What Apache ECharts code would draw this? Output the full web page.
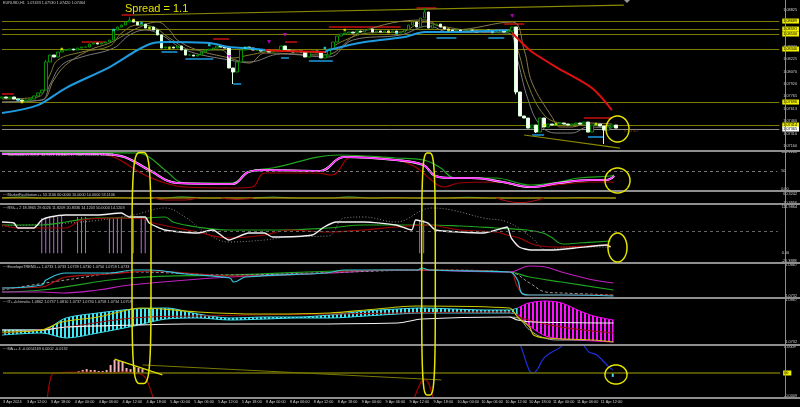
<!DOCTYPE html>
<html><head><meta charset="utf-8">
<script src="https://cdn.jsdelivr.net/npm/echarts@6/dist/echarts.min.js"></script>
<style>html,body{margin:0;padding:0;background:#000;}#c{width:800px;height:407px;}</style>
</head><body><div id="c"></div>
<script>
// ---------- DATA ----------
const N_SLOTS = 196;
const tickLabels = ['3 Apr 2024','3 Apr 12:00','3 Apr 18:00','4 Apr 00:00','4 Apr 06:00','4 Apr 12:00','4 Apr 18:00','5 Apr 00:00','5 Apr 06:00','5 Apr 12:00','5 Apr 18:00','8 Apr 00:00','8 Apr 06:00','8 Apr 12:00','8 Apr 18:00','9 Apr 00:00','9 Apr 06:00','9 Apr 12:00','9 Apr 18:00','10 Apr 00:00','10 Apr 06:00','10 Apr 12:00','10 Apr 18:00','11 Apr 00:00','11 Apr 06:00','11 Apr 12:00'];
const firstOpen = 1.07745;
const closes = [1.07758,1.07745,1.07758,1.07733,1.07721,1.07708,1.07721,1.07733,1.07770,1.07807,
1.07843,1.08187,1.08272,1.08248,1.08309,1.08334,1.08334,1.08346,1.08334,1.08358,
1.08370,1.08370,1.08407,1.08420,1.08407,1.08420,1.08432,1.08456,1.08579,1.08616,
1.08640,1.08677,1.08702,1.08677,1.08640,1.08652,1.08603,1.08616,1.08579,1.08518,
1.08358,1.08370,1.08370,1.08358,1.08383,1.08334,1.08272,1.08272,1.08260,1.08272,
1.08309,1.08334,1.08346,1.08358,1.08383,1.08370,1.08358,1.08113,1.08064,1.08187,
1.08334,1.08370,1.08358,1.08334,1.08334,1.08321,1.08334,1.08309,1.08321,1.08334,
1.08383,1.08334,1.08321,1.08309,1.08321,1.08309,1.08248,1.08309,1.08321,1.08309,
1.08236,1.08272,1.08346,1.08432,1.08505,1.08530,1.08542,1.08554,1.08542,1.08567,
1.08554,1.08579,1.08591,1.08554,1.08567,1.08554,1.08567,1.08554,1.08567,1.08542,
1.08554,1.08579,1.08640,1.08677,1.08616,1.08726,1.08800,1.08603,1.08640,1.08652,
1.08616,1.08591,1.08579,1.08567,1.08579,1.08567,1.08567,1.08579,1.08567,1.08554,
1.08567,1.08579,1.08567,1.08554,1.08554,1.08567,1.08554,1.08567,1.08616,1.07819,
1.07525,1.07500,1.07377,1.07414,1.07328,1.07500,1.07390,1.07426,1.07414,1.07426,
1.07439,1.07426,1.07414,1.07426,1.07439,1.07426,1.07451,1.07328,1.07414,1.07426,
1.07402,1.07353,1.07390,1.07414,1.07377];
const wickExtremes = [[11,null,1.08211],[32,null,1.08740],[58,1.07917,null],[106,null,1.08849],[129,1.07790,null],[134,1.07316,null],[151,1.07181,null]];
const priceTicks = [1.08825,1.08673,1.08522,1.08370,1.08225,1.08070,1.07920,1.07765,1.07613,1.07460,1.07310,1.07160];
const hLevels = [1.08689,1.08591,1.08530,1.08346,1.07696,1.07414];
const bidPrice = 1.07365;

const maBlue1 = [[0,1.07561],[9,1.07659],[16,1.07868],[27,1.08125],[34,1.08334],[38,1.08420],[42,1.08432],[52,1.08420],[57,1.08370],[61,1.08358],[66,1.08334]];
const maRed1 = [[66,1.08334],[71,1.08321],[81,1.08309]];
const maBlue2 = [[81,1.08309],[82,1.08334],[91,1.08432],[101,1.08493],[106,1.08554],[112,1.08554],[127,1.08579]];
const maRed2 = [[128,1.08542],[131,1.08395],[133,1.08309],[139,1.08125],[148,1.07868],[153,1.07598]];
const maSlow = [[0,1.07696],[10,1.07721],[13,1.07966],[16,1.08150],[22,1.08334],[27,1.08420],[34,1.08603],[39,1.08677],[42,1.08579],[44,1.08456],[49,1.08334],[57,1.08236],[62,1.08174],[66,1.08297],[81,1.08272],[90,1.08554],[106,1.08702],[110,1.08616],[113,1.08579],[128,1.08677],[131,1.08334],[133,1.07929],[138,1.07512],[140,1.07390],[143,1.07390],[147,1.07439],[153,1.07426]];
const maFastA = [[0,1.07733],[9,1.07758],[12,1.08027],[14,1.08211],[20,1.08309],[27,1.08383],[30,1.08542],[34,1.08640],[38,1.08616],[42,1.08481],[48,1.08334],[55,1.08334],[58,1.08236],[62,1.08272],[70,1.08334],[80,1.08297],[85,1.08432],[92,1.08542],[100,1.08554],[106,1.08677],[110,1.08628],[120,1.08567],[127,1.08579],[129,1.08395],[132,1.07905],[136,1.07537],[140,1.07439],[146,1.07414],[153,1.07402]];
const maFastB = [[0,1.07696],[10,1.07721],[12,1.07905],[15,1.08150],[20,1.08248],[28,1.08358],[32,1.08518],[36,1.08579],[40,1.08518],[46,1.08334],[57,1.08211],[62,1.08187],[70,1.08285],[82,1.08248],[88,1.08456],[100,1.08518],[107,1.08628],[112,1.08554],[127,1.08542],[129,1.08272],[132,1.07721],[135,1.07414],[139,1.07316],[143,1.07316],[147,1.07390],[153,1.07377]];
const resistSegs = [[0,3,1.07794],[20,26,1.08432],[30,33,1.08763],[53,57,1.08469],[71,74,1.08432],[82,100,1.08616],[104,109,1.08849],[126,131,1.08652],[146,153,1.07500]];
const supportSegs = [[40,44,1.08309],[46,53,1.08223],[58,60,1.07917],[70,72,1.08236],[77,83,1.08199],[109,114,1.08481],[122,126,1.08481],[133,136,1.07292],[147,151,1.07267]];
const trendTop = [[33,1.08763],[156,1.08885]];
const trendBottom = [[131,1.07292],[155,1.07132]];
const fractals = [[57,1.08248],[67,1.08432],[71,1.08518],[128,1.08750]];
const yellowDots = [[5,1.07696],[15,1.08346],[33,1.08702],[37,1.08603],[42,1.08358],[86,1.08579],[97,1.08554],[112,1.08579],[136,1.07414],[139,1.07426],[149,1.07426]];
const cyanDots = [[4,1.07721],[28,1.08579],[35,1.08665],[52,1.08395],[61,1.08358],[81,1.08358],[99,1.08542],[123,1.08554]];

const stochK = [[0,95.7],[24,95.7],[30,90],[37,52.7],[44,17.8],[58,15.1],[62,47.3],[66,52.7],[80,50],[86,87.7],[99,79.6],[106,66.2],[109,36.6],[113,31.2],[118,31.2],[126,20.5],[133,7],[140,17.8],[148,25.8],[152,25.8],[154,36.6]];
const stochGreen = [[0,101],[34,98.4],[37,87.7],[41,52.7],[46,17.8],[58,17.8],[62,47.3],[68,58.1],[85,93],[99,85],[106,79.6],[110,60.8],[114,31.2],[124,31.2],[133,12.4],[140,20.5],[145,31.2],[153,36.6],[154,39.3]];
const stochRed = [[0,95.7],[24,95.7],[37,33.9],[41,17.8],[46,7],[58,4.3],[63,7],[66,44.7],[79,44.7],[83,39.3],[88,87.7],[99,79.6],[104,60.8],[108,25.8],[111,7],[115,17.8],[124,20.5],[133,7],[148,20.5],[154,20.5]];

const mfOrange = [[0,38.1],[154,38.1]];
const mfGreen = [[0,38.1],[5,43],[10,38.1],[20,38.1],[27,41],[34,38.1],[40,38.1],[45,44],[52,38.1],[62,38.1],[68,43],[74,38.1],[82,38.1],[87,44],[93,38.1],[98,41],[104,38.1],[112,38.1],[117,42],[122,38.1],[140,38.1],[145,41],[154,38.1]];
const mfRed = [[38,38.1],[41,27],[46,27],[49,38.1],[50,'-'],[55,38.1],[59,30],[63,38.1],[64,'-'],[124,38.1],[130,12],[136,38.1]];

const rsiWhite = [[0,72.5],[3,70.2],[4,58.6],[8,58.6],[10,77.2],[12,84.1],[16,88.8],[24,88.8],[30,93.4],[32,84.1],[36,84.1],[37,70.2],[41,53.9],[49,47],[53,53.9],[57,30.7],[62,47],[66,47],[68,37.7],[78,42.3],[81,60.9],[84,72.5],[91,72.5],[99,65.5],[103,53.9],[104,77.2],[107,70.2],[109,53.9],[115,49.3],[121,47],[126,58.6],[127,60.9],[128,35.4],[130,14.4],[133,7.5],[138,7.5],[144,12.1],[152,19.1],[153,14.4]];
const rsiGreen = [[0,65.5],[10,65.5],[16,72.5],[24,81.8],[35,81.8],[41,84.1],[43,72.5],[49,60.9],[57,53.9],[70,53.9],[82,58.6],[91,65.5],[99,65.5],[107,65.5],[115,63.2],[124,58.6],[132,53.9],[136,47],[138,37.7],[141,21.4],[145,23.7],[153,28.4]];
const rsiRed = [[0,65.5],[4,58.6],[10,58.6],[16,58.6],[20,77.2],[29,81.8],[36,79.5],[37,72.5],[49,49.3],[57,35.4],[66,42.3],[72,53.9],[82,49.3],[91,53.9],[99,60.9],[107,65.5],[115,53.9],[124,49.3],[127,42.3],[130,35.4],[134,19.1],[140,14.4],[147,16.8],[153,19.1]];
const rsiGray = [[0,63.2],[20,72.5],[33,88.8],[41,105],[46,84.1],[51,49.3],[57,26.1],[66,30.7],[72,37.7],[82,40],[86,81.8],[91,84.1],[99,72.5],[108,105],[113,100.4],[121,81.8],[127,72.5],[133,37.7],[137,7.5],[140,12.1],[145,14.4],[153,14.4]];
const rsiSpikeIdx = [10,11,12,13,14,15,19,20,21,27,28,29,30,33,35,36,105,106];
const rsiSpikeVal = [81.8,81.8,84.1,84.1,84.1,86.5,84.1,84.1,84.1,81.8,81.8,84.1,84.1,84.1,84.1,81.8,77.2,77.2];

const envCyan = [[0,1.07668],[10,1.07799],[11,1.08017],[16,1.08322],[27,1.08322],[33,1.08452],[37,1.08452],[46,1.08278],[57,1.08104],[58,1.07930],[61,1.08147],[81,1.08322],[86,1.08452],[99,1.08452],[104,1.08452],[105,1.08539],[107,1.08452],[127,1.08365],[129,1.08017],[130,1.07451],[132,1.07364],[140,1.07364],[153,1.07320]];
const envRed = [[0,1.07668],[10,1.07712],[13,1.07930],[16,1.08147],[27,1.08278],[37,1.08408],[46,1.08322],[57,1.08191],[61,1.08191],[81,1.08322],[86,1.08408],[107,1.08452],[127,1.08365],[129,1.07712],[131,1.07364],[153,1.07364]];
const envGray = [[0,1.07581],[16,1.08017],[33,1.08365],[57,1.08235],[86,1.08365],[107,1.08452],[127,1.08365],[132,1.07886],[136,1.07494],[140,1.07451],[153,1.07364]];
const envGreen = [[0,1.07494],[10,1.07581],[32,1.08104],[57,1.08235],[99,1.08452],[127,1.08365],[132,1.08147],[140,1.07930],[153,1.07581]];
const envMagenta = [[0,1.07494],[10,1.07494],[15,1.07451],[24,1.07581],[32,1.07799],[57,1.08147],[82,1.08322],[99,1.08452],[127,1.08365],[132,1.08626],[136,1.08583],[140,1.08365],[148,1.08017],[153,1.07886]];

const cloudIdx = [0,10,16,24,33,41,49,57,66,74,82,91,99,105,113,121,127,129,131,133,136,140,144,148,153];
const cloudTop = [1.07728,1.07728,1.08105,1.08262,1.08387,1.08419,1.08230,1.08105,1.08136,1.08136,1.08199,1.08325,1.08387,1.08419,1.08387,1.08356,1.08356,1.08419,1.08544,1.08607,1.08639,1.08576,1.08356,1.08168,1.08042];
const cloudBot = [1.07571,1.07634,1.07477,1.07634,1.07853,1.08073,1.08105,1.08042,1.08073,1.08105,1.08105,1.08168,1.08230,1.08262,1.08262,1.08262,1.08262,1.08230,1.07979,1.07759,1.07540,1.07445,1.07414,1.07383,1.07351];
const cloudSplit = 129;
const ichiWhite = [[0,1.07728],[10,1.07728],[16,1.07822],[33,1.07885],[46,1.07916],[66,1.07916],[99,1.07948],[105,1.08073],[127,1.08136],[129,1.08042],[133,1.07979],[153,1.07948]];
const ichiYellow = [[0,1.07665],[10,1.07728],[15,1.07979],[24,1.08136],[35,1.08419],[49,1.08293],[64,1.08230],[82,1.08262],[91,1.08356],[99,1.08450],[104,1.08482],[127,1.08419],[129,1.08136],[132,1.07822],[133,1.07571],[136,1.07477],[148,1.07414],[153,1.07351]];
const ichiGray = [[127,1.08136],[129,1.08105],[132,1.07728],[135,1.07508],[139,1.07414],[146,1.07414]];
const ichiRed = [[0,1.07634],[16,1.07822],[33,1.08105],[49,1.08168],[82,1.08230],[127,1.08293],[130,1.08105],[140,1.07822],[153,1.07634]];

const histIdx = [19,20,21,22,23,24,25,26,27,28,29,30,31,32,33,34,35];
const histVal = [0.00007,0.00011,0.00014,0.00011,0.00011,0.00007,0.00007,0.00011,0.00029,0.00047,0.00043,0.00040,0.00018,0.00014,0.00022,0.00018,0.00014];
const histLast = [[153,-0.00014]];
const oscRed = [[11,-0.0011],[12,-0.00015],[13,0],[20,0.00003],[27,0],[30,0.00003],[35,-0.00007],[37,-0.0006],[38,-0.0011],[39,'-'],[103,-0.001],[105,-0.0003],[106,-0.00025],[108,-0.001]];
const oscBlue = [[129,0.0012],[130,0.00094],[132,0.00011],[133,0],[136,0.00058],[140,0.00094],[141,0.0011],[145,0.0011],[146,0.00094],[147,0.00076],[149,0.00065],[152,0.00022],[153,0.00011]];
const oscTrendYellow = [[28,0.0005],[40,-0.00007]];
const oscTrendOlive = [[35,0.00029],[110,-0.00025]];

// ---------- BUILD ----------
const cats = Array.from({length:N_SLOTS},(_,i)=>String(i));
const LAST = N_SLOTS-1;
const candles = closes.map((c,i)=>{
  const o = i===0?firstOpen:closes[i-1];
  let lo=Math.min(o,c), hi=Math.max(o,c);
  const w = wickExtremes.find(e=>e[0]===i);
  if(w){ if(w[1]!=null) lo=w[1]; if(w[2]!=null) hi=w[2]; }
  return [o,c,lo,hi];
});
const FONT='"Liberation Sans", Arial, sans-serif';
const FS=3.8;
const grids = [[0,150],[152,38],[192,11],[205,57],[264,33],[299,45],[346,51]];
const yDefs = [
  [1.07108,1.08947, priceTicks, priceTicks.map(v=>v.toFixed(5))],
  [-1.06,101.13,[100.5,50,0.5],['101.1268','50','0.00']],
  [10.3956,71.42,[60.3242,11.5],['60.3242','10.3956']],
  [-20.39,111.99,[108.5,0,-18.5],['111.9864','0.00','-20.3888']],
  [1.07276,1.08714,[1.0867,1.0734],['1.0867','1.0732']],
  [1.07289,1.08701,[1.0866,1.0734],['1.0867','1.0732']],
  [-0.000864,0.000972,[0.00092,-0.00082],['0.0009','-0.0009']]
];
const xAxes = grids.map((g,gi)=>({
  type:'category', gridIndex:gi, data:cats, boundaryGap:true,
  axisLine:{show:false}, axisTick:{show:false}, splitLine:{show:false},
  axisLabel:{show: gi===6, color:'#d0d0d0', fontSize:FS, fontFamily:FONT, margin:3, align:'left', hideOverlap:false,
    interval:(idx)=> idx%6===0 && idx/6<tickLabels.length,
    formatter:(v,idx)=> (idx%6===0 && idx/6<tickLabels.length)? tickLabels[idx/6] : ''}
}));
const yAxes = yDefs.map((d,gi)=>({
  type:'value', gridIndex:gi, min:d[0], max:d[1], position:'right', scale:false,
  splitLine:{show:false}, axisLine:{show:false}, axisTick:{show:false},
  axisLabel:{show:true, customValues:d[2], color:'#d0d0d0', fontSize:FS, fontFamily:FONT, margin:2,
    formatter:(v)=>{const k=d[2].findIndex(x=>Math.abs(x-v)<1e-9); return k>=0?d[3][k]:'';}}
}));
function ln(gi,data,color,width,extra){
  return Object.assign({type:'line',xAxisIndex:gi,yAxisIndex:gi,data,symbol:'none',showSymbol:false,silent:true,
    lineStyle:{color,width},z:3,animation:false},extra||{});
}
function stripe(color){const c=document.createElement('canvas');c.width=4;c.height=4;const g=c.getContext('2d');g.fillStyle=color;g.fillRect(0,0,2,4);return c;}
function spanData(arr,inRange){const out=[];cloudIdx.forEach((x,k)=>{if(inRange(x))out.push([x,arr(k)]);});return out;}
function hLine(v,color,bg){
  return [{coord:[0,v],lineStyle:{color,width:1,type:'solid'},
    label:{show:true,position:'end',formatter:v.toFixed(5),backgroundColor:bg,color:'#000',fontSize:FS,padding:[1,2,0,1],distance:3,fontFamily:FONT}},
    {coord:[LAST,v]}];
}

const series=[];
const mainLines = [];
hLevels.forEach(v=>mainLines.push(hLine(v,'#7c7c00','#f0f000')));
mainLines.push(hLine(bidPrice,'#8a8a8a','#ffffff'));
resistSegs.forEach(s=>mainLines.push([{coord:[s[0],s[2]],lineStyle:{color:'#c81010',width:1.5,type:'solid'},label:{show:false}},{coord:[s[1],s[2]]}]));
supportSegs.forEach(s=>mainLines.push([{coord:[s[0],s[2]],lineStyle:{color:'#1f9be0',width:1.5,type:'solid'},label:{show:false}},{coord:[s[1],s[2]]}]));
[trendTop,trendBottom].forEach(t=>mainLines.push([{coord:t[0],lineStyle:{color:'#8a8a00',width:1.2,type:'solid'},label:{show:false}},{coord:t[1]}]));

series.push({type:'candlestick',xAxisIndex:0,yAxisIndex:0,data:candles,barWidth:3,silent:true,animation:false,z:4,
  itemStyle:{color:'#000000',color0:'#ffffff',borderColor:'#009000',borderColor0:'#d8ffd8',borderWidth:1},
  markLine:{silent:true,symbol:['none','none'],animation:false,z:2,data:mainLines}});
series.push(ln(0,maSlow,'#8a7a4a',1,{smooth:0.4}));
series.push(ln(0,maFastA,'#7d7d30',1,{smooth:0.4}));
series.push(ln(0,maFastB,'#7a7a7a',1,{smooth:0.4}));
series.push(ln(0,maBlue1,'#1f9be0',2,{smooth:0.3,z:5}));
series.push(ln(0,maRed1,'#e01010',2,{smooth:0.3,z:5}));
series.push(ln(0,maBlue2,'#1f9be0',2,{smooth:0.3,z:5}));
series.push(ln(0,maRed2,'#e01010',2,{smooth:0.3,z:5}));
series.push({type:'scatter',xAxisIndex:0,yAxisIndex:0,data:fractals,symbol:'triangle',symbolRotate:180,symbolSize:4,itemStyle:{color:'#d000d0'},silent:true,animation:false,z:6});
series.push({type:'scatter',xAxisIndex:0,yAxisIndex:0,data:yellowDots,symbol:'rect',symbolSize:2.5,itemStyle:{color:'#f0f000'},silent:true,animation:false,z:6});
series.push({type:'scatter',xAxisIndex:0,yAxisIndex:0,data:cyanDots,symbol:'rect',symbolSize:2.5,itemStyle:{color:'#30e0f0'},silent:true,animation:false,z:6});

// stochastic
series.push(ln(1,stochGreen,'#1fa51f',1.2,{smooth:0.4}));
series.push(ln(1,stochRed,'#a00000',1.2,{smooth:0.4}));
series.push(ln(1,stochK,'#ffffff',2.2,{smooth:0.4}));
series.push(ln(1,stochK,'#ff20ff',1.4,{smooth:0.4,
  markLine:{silent:true,symbol:['none','none'],animation:false,label:{show:false},data:[[{coord:[0,50]},{coord:[LAST,50]}]],lineStyle:{color:'#777',width:1,type:[3,3]}}}));

// small panel
series.push(ln(2,mfGreen,'#2e9a2e',1.2,{smooth:0.4}));
series.push(ln(2,mfOrange,'#e09a00',1.2));
series.push(ln(2,mfRed,'#a01010',1.2,{smooth:0.4}));

// rsi panel
series.push({type:'bar',xAxisIndex:3,yAxisIndex:3,data:cats.map((_,i)=>{const k=rsiSpikeIdx.indexOf(i);return k>=0?rsiSpikeVal[k]:'-';}),
  barWidth:1,itemStyle:{color:'#b070d0'},silent:true,animation:false,z:2});
series.push(ln(3,rsiGray,'#8a8a8a',1,{smooth:0.4,lineStyle:{color:'#8a8a8a',width:1,type:[1,2]},
  markLine:{silent:true,symbol:['none','none'],animation:false,label:{show:false},data:[[{coord:[0,50]},{coord:[LAST,50]}]],lineStyle:{color:'#666',width:1,type:[3,3]}}}));
series.push(ln(3,rsiGreen,'#1fa51f',1.2,{smooth:0.4}));
series.push(ln(3,rsiRed,'#a00000',1.2,{smooth:0.4}));
series.push(ln(3,rsiWhite,'#f0f0f0',1.4,{smooth:0.2}));

// envelope panel
series.push(ln(4,envGreen,'#1fa51f',1.2,{smooth:0.4}));
series.push(ln(4,envMagenta,'#c020c0',1.2,{smooth:0.4}));
series.push(ln(4,envGray,'#9a9a9a',1,{smooth:0.4,lineStyle:{color:'#9a9a9a',width:1,type:[3,2]}}));
series.push(ln(4,envRed,'#b01010',1.2,{smooth:0.4}));
series.push(ln(4,envCyan,'#30c8e0',1.2,{smooth:0.4}));

// ichimoku panel
const inCy = x=>x<=cloudSplit, inMg = x=>x>=cloudSplit;
series.push(ln(5,spanData(k=>cloudBot[k],inCy),'#3ee0f0',1,{stack:'cy',smooth:0.3}));
series.push(ln(5,spanData(k=>+(cloudTop[k]-cloudBot[k]).toFixed(6),inCy),'#3ee0f0',1,{stack:'cy',smooth:0.3,
  areaStyle:{color:{image:stripe('#3ee8f4'),repeat:'repeat'},opacity:1}}));
series.push(ln(5,spanData(k=>cloudBot[k],inMg),'#ff00ff',1,{stack:'mg',smooth:0.3}));
series.push(ln(5,spanData(k=>+(cloudTop[k]-cloudBot[k]).toFixed(6),inMg),'#ff00ff',1,{stack:'mg',smooth:0.3,
  areaStyle:{color:{image:stripe('#ff10ff'),repeat:'repeat'},opacity:1}}));
series.push(ln(5,ichiRed,'#a01010',1,{smooth:0.4}));
series.push(ln(5,ichiGray,'#b0b0b0',1,{smooth:0.4}));
series.push(ln(5,ichiWhite,'#f0f0f0',1.2,{smooth:0.3}));
series.push(ln(5,ichiYellow,'#c8c800',1.2,{smooth:0.3}));

// oscillator panel
series.push({type:'bar',xAxisIndex:6,yAxisIndex:6,data:cats.map((_,i)=>{const k=histIdx.indexOf(i);if(k>=0)return histVal[k];const l=histLast.find(h=>h[0]===i);return l?l[1]:'-';}),
  barWidth:2,itemStyle:{color:(p)=>p.value<0?'#50d8f0':'#f3b0b8'},silent:true,animation:false,z:3});
series.push(ln(6,oscRed,'#a00000',1.2,{smooth:0.4,
  markLine:{silent:true,symbol:['none','none'],animation:false,data:[
    [{coord:[0,0],lineStyle:{color:'#6e6e00',width:1.5,type:'solid'},label:{show:true,position:'end',formatter:'00',backgroundColor:'#f0f000',color:'#000',fontSize:FS,padding:[1,3,0,1],distance:3}},{coord:[LAST,0]}],
    [{coord:oscTrendYellow[0],lineStyle:{color:'#e0e000',width:1.2,type:'solid'},label:{show:false}},{coord:oscTrendYellow[1]}],
    [{coord:oscTrendOlive[0],lineStyle:{color:'#7a7a00',width:1,type:'solid'},label:{show:false}},{coord:oscTrendOlive[1]}]
  ]}}));
series.push(ln(6,oscBlue,'#2030e0',1.2,{smooth:0.4}));

// ---------- ANNOTATIONS ----------
function oval(cx,cy,rx,ry,n){const pts=[];for(let k=0;k<120;k++){const t=k/120*2*Math.PI,c=Math.cos(t),s=Math.sin(t);
  pts.push([cx+rx*Math.sign(c)*Math.pow(Math.abs(c),2/n),cy+ry*Math.sign(s)*Math.pow(Math.abs(s),2/n)]);}return pts;}
const ovals=[[141.5,268,9.5,115.5,4],[428.5,274,6.8,121,4],[617.5,129,11.5,13,2],[617.5,180.5,12.5,12.5,2],[617.5,247.5,9.5,14.5,2],[616,374.5,11,9.5,2]];
const seps=[150,190,203,262,297,344,397];
const headers=[[1,'EURUSD,H1  1.07433 1.07530 1.07420 1.07464'],[153,'~~Stochastic++ 8,3,3  13.9471 20.0405 17.9609 20.4890 13.9471'],
 [193,'~~MarketFacilitation++ 53.1106 60.0000 10.0000 10.0000 53.1106'],[206,'~~RSI++ 2 18.3965 29.6026 11.8209 20.8336 14.1203 50.0000 14.1203'],
 [265,'~~EnvelopeTREND++ 1.0733 1.0733 1.0739 1.0730 1.0750 1.0759 1.0733'],[300,'~~IT++Ichimoku 1.0862 1.0737 1.0810 1.0737 1.0730 1.0758 1.0734 1.0759'],
 [347,'~~MA++ 4 -0.0054169 0.0002 -0.0132']];
const graphic=[];
seps.forEach(y=>graphic.push({type:'rect',shape:{x:0,y:y,width:800,height:2},style:{fill:'#8e8e8e'},silent:true,z:10}));
graphic.push({type:'rect',shape:{x:785,y:0,width:1,height:398},style:{fill:'#8e8e8e'},silent:true,z:10});
graphic.push({type:'polygon',shape:{points:[[624,0],[630,0],[627,3]]},style:{fill:'#9a9a9a'},silent:true,z:10});
headers.forEach(h=>graphic.push({type:'text',left:3,top:h[0],style:{text:h[1],fill:'#c8c8c8',font:FS+'px '+FONT},silent:true,z:10}));
ovals.forEach(o=>graphic.push({type:'polygon',shape:{points:oval(o[0],o[1],o[2],o[3],o[4])},style:{fill:'none',stroke:'#e6e600',lineWidth:1.5},silent:true,z:20}));
graphic.push({type:'text',left:125,top:3,style:{text:'Spread = 1.1',fill:'#e0e000',font:'11px '+FONT},silent:true,z:20});
graphic.push({type:'text',left:624,top:129,style:{text:'<- 17:17',fill:'#a0602c',font:FS+'px '+FONT},silent:true,z:20});

const chart=echarts.init(document.getElementById('c'),null,{renderer:'canvas'});
chart.setOption({
  backgroundColor:'#000000', animation:false, textStyle:{fontFamily:FONT},
  grid: grids.map(g=>({left:0,right:15,top:g[0],height:g[1],containLabel:false,show:false})),
  xAxis:xAxes, yAxis:yAxes, series, graphic
});
</script></body></html>
